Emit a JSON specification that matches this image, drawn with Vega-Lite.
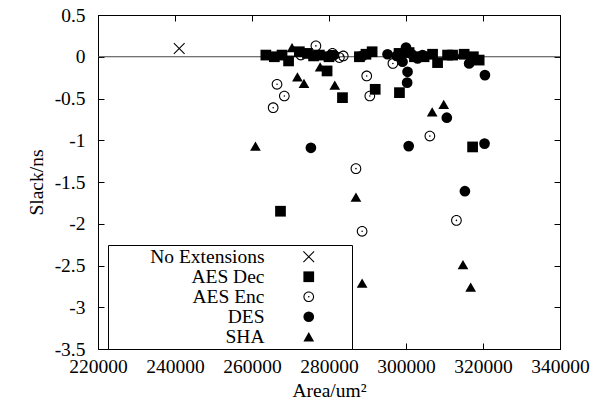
{
  "$schema": "https://vega.github.io/schema/vega-lite/v6.json",
  "width": 462,
  "height": 334,
  "autosize": {"type": "none"},
  "padding": {"left": 98, "top": 15, "right": 34, "bottom": 61},
  "background": "white",
  "config": {
    "view": {"stroke": "black", "strokeWidth": 1},
    "font": "Liberation Serif",
    "axis": {
      "labelFont": "Liberation Serif", "labelFontSize": 19.5, "labelColor": "black",
      "titleFont": "Liberation Serif", "titleFontSize": 19.5, "titleFontWeight": "normal", "titleColor": "black",
      "domainColor": "black", "tickColor": "black", "grid": false, "tickSize": -6
    },
    "legend": {
      "orient": "none", "legendX": 10, "legendY": 230,
      "strokeColor": "black", "fillColor": "white", "padding": 2,
      "labelFont": "Liberation Serif", "labelFontSize": 19.5, "labelColor": "black",
      "labelAlign": "right", "labelOffset": -54, "symbolOffset": 189,
      "rowPadding": -1.5,
      "symbolSize": 115, "symbolFillColor": "black", "symbolStrokeWidth": 0,
      "titleOrient": "right", "titleOpacity": 0, "titleFontSize": 18, "titlePadding": 0, "titleFont": "Liberation Serif"
    }
  },
  "data": {"values": [
    {"area": 241100, "slack": 0.10, "series": "No Extensions"},

    {"area": 263600, "slack": 0.02, "series": "AES Dec"},
    {"area": 265800, "slack": 0.0, "series": "AES Dec"},
    {"area": 267800, "slack": 0.02, "series": "AES Dec"},
    {"area": 269500, "slack": -0.05, "series": "AES Dec"},
    {"area": 272300, "slack": 0.06, "series": "AES Dec"},
    {"area": 274400, "slack": 0.04, "series": "AES Dec"},
    {"area": 276000, "slack": 0.01, "series": "AES Dec"},
    {"area": 277500, "slack": 0.02, "series": "AES Dec"},
    {"area": 280000, "slack": 0.0, "series": "AES Dec"},
    {"area": 287900, "slack": 0.0, "series": "AES Dec"},
    {"area": 289600, "slack": 0.03, "series": "AES Dec"},
    {"area": 291200, "slack": 0.06, "series": "AES Dec"},
    {"area": 298200, "slack": 0.04, "series": "AES Dec"},
    {"area": 300800, "slack": 0.05, "series": "AES Dec"},
    {"area": 302200, "slack": 0.0, "series": "AES Dec"},
    {"area": 304700, "slack": 0.0, "series": "AES Dec"},
    {"area": 306900, "slack": 0.03, "series": "AES Dec"},
    {"area": 308200, "slack": -0.07, "series": "AES Dec"},
    {"area": 310800, "slack": 0.02, "series": "AES Dec"},
    {"area": 312100, "slack": 0.02, "series": "AES Dec"},
    {"area": 315100, "slack": 0.03, "series": "AES Dec"},
    {"area": 317500, "slack": 0.0, "series": "AES Dec"},
    {"area": 319000, "slack": -0.04, "series": "AES Dec"},
    {"area": 279500, "slack": -0.17, "series": "AES Dec"},
    {"area": 283500, "slack": -0.49, "series": "AES Dec"},
    {"area": 292000, "slack": -0.39, "series": "AES Dec"},
    {"area": 298300, "slack": -0.43, "series": "AES Dec"},
    {"area": 267400, "slack": -1.85, "series": "AES Dec"},
    {"area": 317300, "slack": -1.08, "series": "AES Dec"},

    {"area": 265500, "slack": -0.61, "series": "AES Enc"},
    {"area": 266500, "slack": -0.33, "series": "AES Enc"},
    {"area": 268400, "slack": -0.47, "series": "AES Enc"},
    {"area": 272700, "slack": 0.02, "series": "AES Enc"},
    {"area": 276600, "slack": 0.13, "series": "AES Enc"},
    {"area": 280900, "slack": 0.04, "series": "AES Enc"},
    {"area": 282700, "slack": -0.01, "series": "AES Enc"},
    {"area": 283700, "slack": 0.01, "series": "AES Enc"},
    {"area": 289800, "slack": -0.23, "series": "AES Enc"},
    {"area": 290600, "slack": -0.47, "series": "AES Enc"},
    {"area": 296600, "slack": -0.08, "series": "AES Enc"},
    {"area": 287000, "slack": -1.34, "series": "AES Enc"},
    {"area": 288600, "slack": -2.09, "series": "AES Enc"},
    {"area": 306200, "slack": -0.95, "series": "AES Enc"},
    {"area": 313100, "slack": -1.96, "series": "AES Enc"},

    {"area": 275300, "slack": -1.09, "series": "DES"},
    {"area": 280500, "slack": 0.02, "series": "DES"},
    {"area": 281300, "slack": 0.02, "series": "DES"},
    {"area": 287900, "slack": 0.0, "series": "DES"},
    {"area": 288700, "slack": 0.01, "series": "DES"},
    {"area": 295200, "slack": 0.03, "series": "DES"},
    {"area": 297600, "slack": 0.01, "series": "DES"},
    {"area": 299100, "slack": -0.06, "series": "DES"},
    {"area": 300000, "slack": 0.11, "series": "DES"},
    {"area": 300400, "slack": -0.18, "series": "DES"},
    {"area": 300300, "slack": -0.31, "series": "DES"},
    {"area": 300700, "slack": -1.07, "series": "DES"},
    {"area": 301500, "slack": 0.03, "series": "DES"},
    {"area": 303000, "slack": -0.02, "series": "DES"},
    {"area": 304300, "slack": 0.02, "series": "DES"},
    {"area": 310600, "slack": -0.73, "series": "DES"},
    {"area": 315300, "slack": -1.61, "series": "DES"},
    {"area": 316400, "slack": -0.08, "series": "DES"},
    {"area": 320500, "slack": -0.22, "series": "DES"},
    {"area": 320400, "slack": -1.04, "series": "DES"},

    {"area": 260900, "slack": -1.07, "series": "SHA"},
    {"area": 270400, "slack": 0.11, "series": "SHA"},
    {"area": 271800, "slack": -0.24, "series": "SHA"},
    {"area": 273500, "slack": -0.32, "series": "SHA"},
    {"area": 277700, "slack": -0.12, "series": "SHA"},
    {"area": 281500, "slack": -0.34, "series": "SHA"},
    {"area": 287000, "slack": -1.68, "series": "SHA"},
    {"area": 288600, "slack": -2.71, "series": "SHA"},
    {"area": 306800, "slack": -0.66, "series": "SHA"},
    {"area": 309800, "slack": -0.57, "series": "SHA"},
    {"area": 314300, "slack": 0.03, "series": "SHA"},
    {"area": 314800, "slack": -2.49, "series": "SHA"},
    {"area": 316800, "slack": -2.76, "series": "SHA"}
  ]},
  "layer": [
    {
      "data": {"values": [{"zero": 0}]},
      "mark": {"type": "rule", "stroke": "#444444", "strokeWidth": 1},
      "encoding": {
        "y": {"field": "zero", "type": "quantitative", "axis": null,
              "scale": {"domain": [-3.5, 0.5], "nice": false, "zero": false}}
      }
    },
    {
      "mark": {"type": "point", "filled": true, "color": "black", "strokeWidth": 0, "opacity": 1, "size": 115},
      "encoding": {
        "x": {"field": "area", "type": "quantitative", "title": "Area/um²",
              "scale": {"domain": [220000, 340000], "nice": false, "zero": false},
              "axis": {"orient": "bottom", "values": [220000, 240000, 260000, 280000, 300000, 320000, 340000],
                       "labelExpr": "'' + datum.value", "labelPadding": 14, "titlePadding": 6, "labelFlush": false}},
        "y": {"field": "slack", "type": "quantitative", "title": "Slack/ns",
              "scale": {"domain": [-3.5, 0.5], "nice": false, "zero": false},
              "axis": {"orient": "left", "values": [0.5, 0, -0.5, -1, -1.5, -2, -2.5, -3, -3.5],
                       "labelExpr": "'' + datum.value", "labelPadding": 19, "titlePadding": 8, "labelFlush": false}},
        "shape": {"field": "series", "type": "nominal",
                  "scale": {"domain": ["No Extensions", "AES Dec", "AES Enc", "DES", "SHA"],
                            "range": [
                              "M-0.93,-1.07L1.07,0.93L0.93,1.07L-1.07,-0.93ZM0.93,-1.07L1.07,-0.93L-0.93,1.07L-1.07,0.93Z",
                              "square",
                              "M1,0A1,1,0,1,1,-1,0A1,1,0,1,1,1,0ZM0.8,0A0.8,0.8,0,1,0,-0.8,0A0.8,0.8,0,1,0,0.8,0ZM0.15,0A0.15,0.15,0,1,1,-0.15,0A0.15,0.15,0,1,1,0.15,0Z",
                              "circle",
                              "triangle-up"]},
                  "legend": {"title": "xxxx"}}
      }
    },
    {
      "mark": {"type": "point", "opacity": 0},
      "encoding": {
        "x": {"field": "area", "type": "quantitative",
              "scale": {"domain": [220000, 340000], "nice": false, "zero": false},
              "axis": {"orient": "top", "values": [220000, 240000, 260000, 280000, 300000, 320000, 340000], "labels": false, "title": null}},
        "y": {"field": "slack", "type": "quantitative",
              "scale": {"domain": [-3.5, 0.5], "nice": false, "zero": false},
              "axis": {"orient": "right", "values": [0.5, 0, -0.5, -1, -1.5, -2, -2.5, -3, -3.5], "labels": false, "title": null}}
      }
    }
  ],
  "resolve": {"axis": {"x": "independent", "y": "independent"}}
}
